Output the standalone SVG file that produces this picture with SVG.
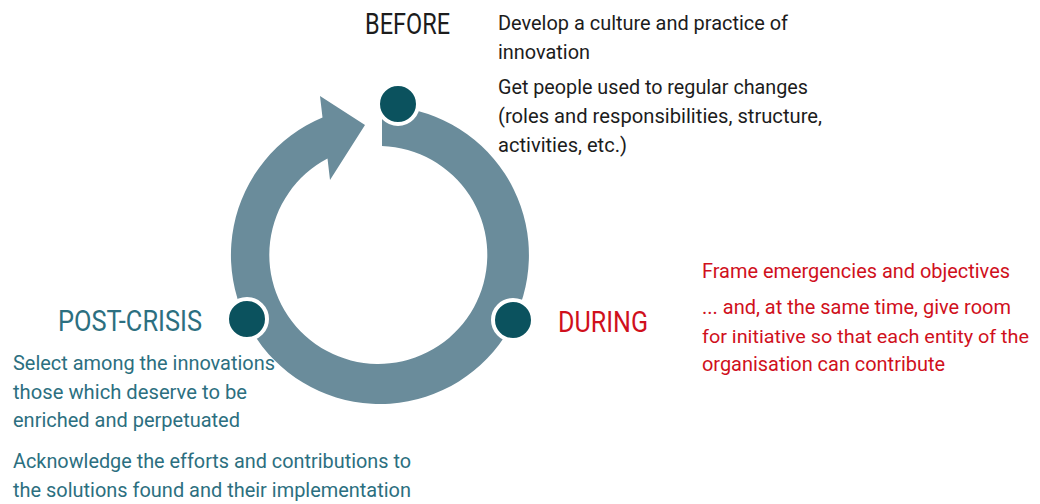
<svg xmlns="http://www.w3.org/2000/svg" width="1040" height="504" viewBox="0 0 1040 504">
  <style>
    .head { font-family: Roboto, "Liberation Sans", sans-serif; font-size: 29px; }
    .body { font-family: Roboto, "Liberation Sans", sans-serif; font-size: 21px; }
    .tight { font-size: 19px; }
    .dark { fill: #1c1c1c; }
    .red { fill: #d0101c; }
    .teal { fill: #2c6f80; }
    .dot { fill: #0b525e; stroke: #ffffff; stroke-width: 4; }
  </style>
  <rect width="1040" height="504" fill="#ffffff"/>

  <!-- circular arrow: ring runs clockwise from the top, head meets the top dot -->
  <g id="cycle">
    <path fill="#6a8c9b" d="M 382 106 A 149 149 0 1 1 322.5 117.5 L 320 96 L 365 125 L 330 180 L 327.5 158.5 A 109 109 0 1 0 382 146 Z"/>
  </g>

  <!-- phase markers -->
  <g id="before">
    <circle class="dot" cx="398" cy="104" r="20"/>
    <text class="head dark" x="365" y="34" textLength="85" lengthAdjust="spacingAndGlyphs">BEFORE</text>
    <text class="body dark" x="498" y="30" textLength="290" lengthAdjust="spacingAndGlyphs">Develop a culture and practice of</text>
    <text class="body dark" x="498" y="59" textLength="92" lengthAdjust="spacingAndGlyphs">innovation</text>
    <text class="body dark" x="498" y="94" textLength="310" lengthAdjust="spacingAndGlyphs">Get people used to regular changes</text>
    <text class="body dark" x="498" y="123" textLength="324" lengthAdjust="spacingAndGlyphs">(roles and responsibilities, structure,</text>
    <text class="body dark" x="498" y="152" textLength="129" lengthAdjust="spacingAndGlyphs">activities, etc.)</text>
  </g>

  <g id="during">
    <circle class="dot" cx="513" cy="320" r="20"/>
    <text class="head red" x="558" y="332" textLength="90" lengthAdjust="spacingAndGlyphs">DURING</text>
    <text class="body red" x="702" y="278" textLength="308" lengthAdjust="spacingAndGlyphs">Frame emergencies and objectives</text>
    <text class="body red" x="702" y="314" textLength="309" lengthAdjust="spacingAndGlyphs">... and, at the same time, give room</text>
    <text class="body red tight" x="702" y="343" textLength="327" lengthAdjust="spacingAndGlyphs">for initiative so that each entity of the</text>
    <text class="body red" x="702" y="371" textLength="243" lengthAdjust="spacingAndGlyphs">organisation can contribute</text>
  </g>

  <g id="post-crisis">
    <circle class="dot" cx="247" cy="319" r="20"/>
    <text class="head teal" x="58" y="331" textLength="144" lengthAdjust="spacingAndGlyphs">POST-CRISIS</text>
    <text class="body teal" x="13" y="370" textLength="262" lengthAdjust="spacingAndGlyphs">Select among the innovations</text>
    <text class="body teal" x="13" y="399" textLength="234" lengthAdjust="spacingAndGlyphs">those which deserve to be</text>
    <text class="body teal" x="13" y="427" textLength="227" lengthAdjust="spacingAndGlyphs">enriched and perpetuated</text>
    <text class="body teal" x="13" y="468" textLength="398" lengthAdjust="spacingAndGlyphs">Acknowledge the efforts and contributions to</text>
    <text class="body teal" x="13" y="497" textLength="398" lengthAdjust="spacingAndGlyphs">the solutions found and their implementation</text>
  </g>
</svg>
